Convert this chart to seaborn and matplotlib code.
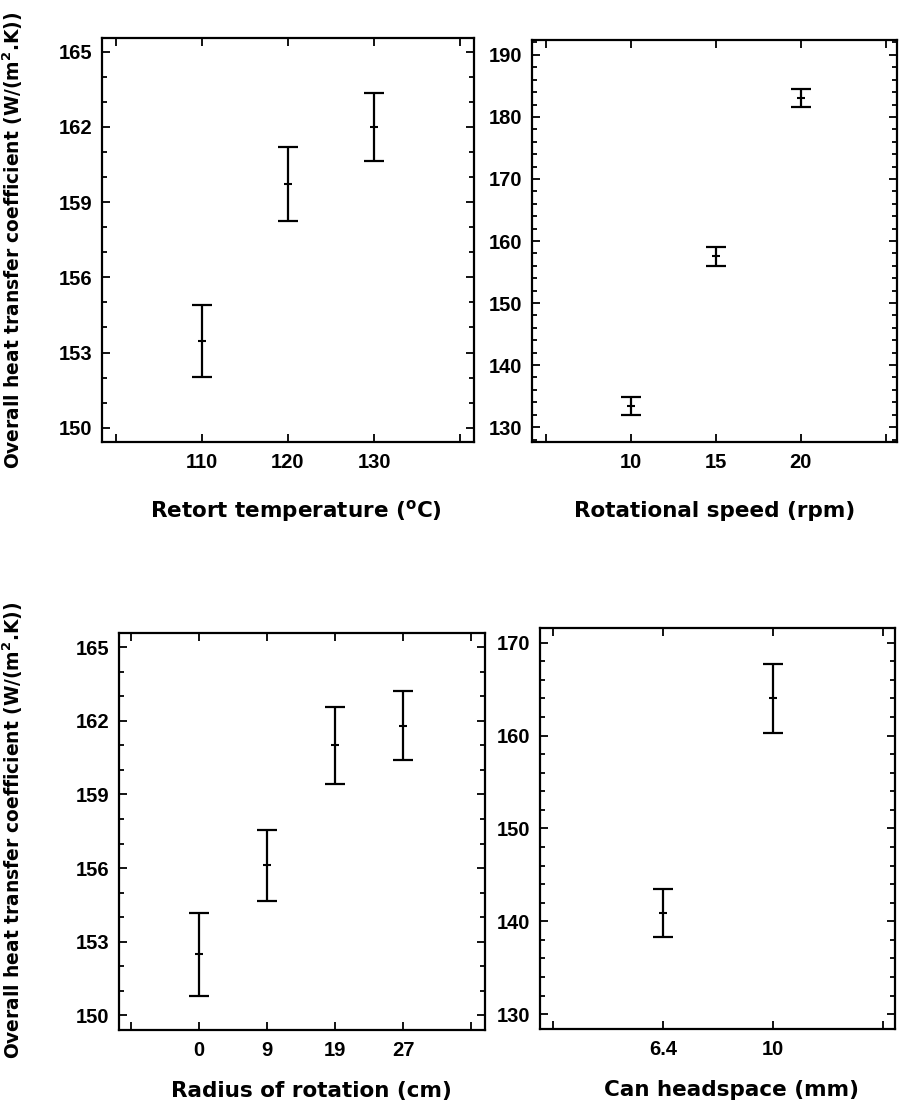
import numpy as np
import pandas as pd
import matplotlib
matplotlib.use("Agg")
import matplotlib.pyplot as plt
import seaborn as sns
from matplotlib.ticker import MultipleLocator, FixedLocator, NullLocator

# ---------------- data ----------------
temp_levels = [110, 120, 130]
temp_mean = [153.45, 159.72, 162.0]
temp_err = [1.43, 1.48, 1.36]

speed_levels = [10, 15, 20]
speed_mean = [133.4, 157.55, 183.05]
speed_err = [1.42, 1.5, 1.4]

radius_labels = ["0", "9", "19", "27"]
radius_mean = [152.48, 156.12, 161.0, 161.8]
radius_err = [1.7, 1.45, 1.58, 1.41]

headspace_labels = ["6.4", "10"]
headspace_mean = [140.9, 164.0]
headspace_err = [2.55, 3.73]

# ---------------- style ----------------
sns.set_theme(style="ticks")
plt.rcParams["font.family"] = ["Liberation Sans", "DejaVu Sans"]
plt.rcParams["font.weight"] = "bold"
plt.rcParams["mathtext.fontset"] = "custom"
plt.rcParams["mathtext.rm"] = "DejaVu Sans:bold"
plt.rcParams["mathtext.bf"] = "DejaVu Sans:bold"
for key in ["text.color", "axes.labelcolor", "xtick.color", "ytick.color",
            "xtick.labelcolor", "ytick.labelcolor"]:
    plt.rcParams[key] = "black"

LABEL_FONT = ["DejaVu Sans"]

W, H = 899, 1104
fig = plt.figure(figsize=(W / 100, H / 100), dpi=100)


def add_ax(l, t, r, b):
    return fig.add_axes([l / W, 1 - b / H, (r - l) / W, (b - t) / H])


def style_ax(ax, xlim, ylim, xticks, xticklabels, yticks, yminor):
    ax.set_xlim(*xlim)
    ax.set_ylim(*ylim)
    ax.xaxis.set_major_locator(FixedLocator(xticks))
    ax.set_xticklabels(xticklabels)
    ax.xaxis.set_minor_locator(NullLocator())
    ax.yaxis.set_major_locator(FixedLocator(yticks))
    ax.set_yticklabels([str(v) for v in yticks])
    ax.yaxis.set_minor_locator(MultipleLocator(yminor))
    for s in ax.spines.values():
        s.set_visible(True)
        s.set_linewidth(1.6)
        s.set_color("black")
    ax.tick_params(axis="both", which="both", direction="in", top=True, right=True,
                   color="black", labelcolor="black", width=1.3)
    ax.tick_params(axis="both", which="major", length=5.5, labelsize=14.5)
    ax.tick_params(axis="both", which="minor", length=3.5)
    ax.tick_params(axis="y", which="major", pad=7)
    ax.tick_params(axis="x", which="major", pad=8)
    for lab in ax.get_xticklabels() + ax.get_yticklabels():
        lab.set_fontweight("bold")
    ax.set_xlabel("")
    ax.set_ylabel("")
    ax.set_facecolor("white")


def draw(ax, x, y, e):
    df = pd.DataFrame({"x": x, "y": y})
    sns.scatterplot(data=df, x="x", y="y", ax=ax, marker="_", s=28, color="black",
                    linewidth=1.5, legend=False, zorder=3)
    ax.errorbar(x, y, yerr=e, fmt="none", ecolor="black", elinewidth=1.6,
                capsize=7, capthick=1.6, zorder=2)


def xlabel(text, xc, ybase):
    fig.text(xc / W, 1 - ybase / H, text, ha="center", va="baseline",
             fontsize=15.5, fontweight="bold", family=LABEL_FONT, color="black")


# Panel 1: retort temperature
ax1 = add_ax(102, 38, 474, 442)
draw(ax1, temp_levels, temp_mean, temp_err)
style_ax(ax1, (98.4, 141.6), (149.43, 165.55), [100, 110, 120, 130, 140],
         ["", "110", "120", "130", ""], [150, 153, 156, 159, 162, 165], 1)
xlabel(r"Retort temperature ($^{\mathregular{o}}$C)", 296, 517)

# Panel 2: rotational speed
ax2 = add_ax(532, 40, 897, 442)
draw(ax2, speed_levels, speed_mean, speed_err)
style_ax(ax2, (4.2, 25.65), (127.6, 192.4), [5, 10, 15, 20, 25],
         ["", "10", "15", "20", ""], [130, 140, 150, 160, 170, 180, 190], 2)
xlabel("Rotational speed (rpm)", 715, 517)

# Panel 3: radius of rotation (categorical)
ax3 = add_ax(119, 633, 485, 1030)
xr = np.arange(len(radius_labels))
draw(ax3, xr, radius_mean, radius_err)
style_ax(ax3, (-1.18, len(radius_labels) + 0.2), (149.4, 165.58),
         list(range(-1, len(radius_labels) + 1)),
         [""] + radius_labels + [""], [150, 153, 156, 159, 162, 165], 1)
xlabel("Radius of rotation (cm)", 311, 1097)

# Panel 4: can headspace (categorical)
ax4 = add_ax(540, 628, 895, 1029)
xh = np.arange(len(headspace_labels))
draw(ax4, xh, headspace_mean, headspace_err)
style_ax(ax4, (-1.12, len(headspace_labels) + 0.11), (128.4, 171.58),
         list(range(-1, len(headspace_labels) + 1)),
         [""] + headspace_labels + [""], [130, 140, 150, 160, 170], 2)
xlabel("Can headspace (mm)", 731, 1096)

ylab = r"Overall heat transfer coefficient (W/(m$^{\mathregular{2}}$.K))"
fig.text(13 / W, 1 - 240 / H, ylab, rotation=90, ha="center", va="center",
         fontsize=13.4, fontweight="bold", family=LABEL_FONT, color="black")
fig.text(13 / W, 1 - 830 / H, ylab, rotation=90, ha="center", va="center",
         fontsize=13.4, fontweight="bold", family=LABEL_FONT, color="black")

fig.savefig("out.png", dpi=100, facecolor="white")
